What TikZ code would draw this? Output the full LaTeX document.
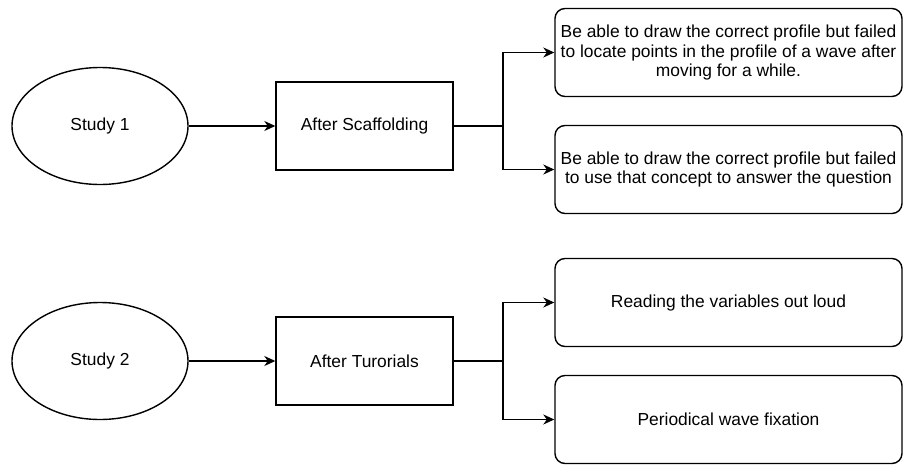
\documentclass[tikz,border=0pt]{standalone}
\usepackage{fontspec}
\setmainfont{Liberation Sans}
\usetikzlibrary{arrows.meta,shapes.geometric}

\begin{document}
\begin{tikzpicture}[x=1pt,y=-1pt,
  every node/.style={font=\fontsize{17.4}{19.3}\selectfont, inner sep=0pt, line width=1.4pt, draw=black},
  study/.style={ellipse, minimum width=176pt, minimum height=117pt},
  phase/.style={rectangle, minimum width=177pt, minimum height=88pt},
  finding/.style={rectangle, rounded corners=10pt, minimum width=347pt, minimum height=88pt, align=center},
  link/.style={line width=1.4pt, -{Stealth[length=11pt,width=10pt,inset=3.5pt]}},
  branch/.style={line width=1.4pt}
]
\useasboundingbox (0,0) rectangle (903,464);

% Study 1
\node[study] (s1) at (100,126) {Study 1};
\node[phase] (a1) at (364.5,126) {After Scaffolding};
\node[finding] (f1) at (728.5,52.5) {Be able to draw the correct profile but failed\\to locate points in the profile of a wave after\\moving for a while.};
\node[finding] (f2) at (728.5,169.5) {Be able to draw the correct profile but failed\\to use that concept to answer the question};

% Study 2
\node[study] (s2) at (100,361) {Study 2};
\node[phase] (a2) at (364.5,361) {After Turorials};
\node[finding] (f3) at (728.5,302.5) {Reading the variables out loud};
\node[finding] (f4) at (728.5,419.5) {Periodical wave fixation};

% branch points
\coordinate (j1) at (503,126);
\coordinate (j2) at (503,361);

\draw[link] (s1) -- (a1);
\draw[branch] (a1.east) -- (j1);
\draw[link] (j1) |- (f1.west);
\draw[link] (j1) |- (f2.west);

\draw[link] (s2) -- (a2);
\draw[branch] (a2.east) -- (j2);
\draw[link] (j2) |- (f3.west);
\draw[link] (j2) |- (f4.west);
\end{tikzpicture}
\end{document}
